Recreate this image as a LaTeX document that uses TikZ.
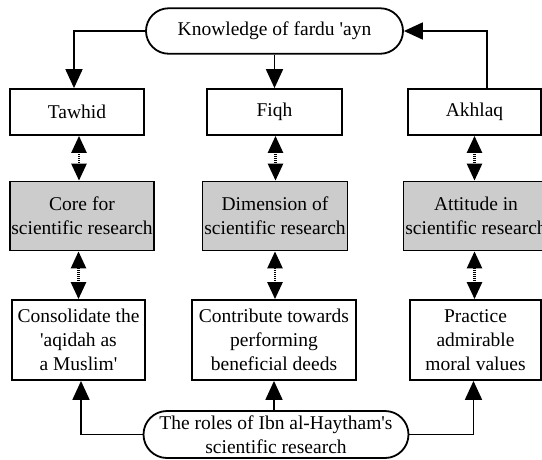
\documentclass[tikz,border=0pt]{standalone}
\usepackage{fontspec}
\setmainfont{Liberation Serif}
\usetikzlibrary{arrows.meta,shapes.misc}
\definecolor{boxgray}{RGB}{204,204,204}
\newcommand{\sq}{\textquotesingle}
\begin{document}
\begin{tikzpicture}[x=1pt,y=-1pt,
  every node/.style={font=\fontsize{19.5}{24}\selectfont, align=center, inner sep=0pt},
  box/.style={draw, line width=1.8pt, rectangle},
  graybox/.style={box, fill=boxgray},
  term/.style={draw, line width=1.8pt, rounded rectangle},
  arr/.style={line width=1.8pt, -{Triangle[width=17pt,length=19pt]}},
  dbl/.style={line width=2.6pt, dash pattern=on 1pt off 1pt,
    {Triangle[width=15pt,length=17pt]}-{Triangle[width=15pt,length=17pt]}}]
\useasboundingbox (0,0) rectangle (542,459);
\clip (0,0) rectangle (542,459);
% top terminator
\node[term, minimum width=257pt, minimum height=45.5pt] (top) at (274.5,31) {Knowledge of fardu \sq ayn};
% row 1
\node[box, minimum width=134pt, minimum height=46pt] (taw) at (77,112) {Tawhid};
\node[box, minimum width=135pt, minimum height=46pt] (fiqh) at (274.5,112) {Fiqh};
\node[box, minimum width=133pt, minimum height=46pt] (akh) at (474.5,112) {Akhlaq};
% row 2
\node[graybox, minimum width=144pt, minimum height=69pt] (core) at (82,216) {Core for\\scientific research};
\node[graybox, minimum width=145pt, minimum height=69pt] (dim) at (275,216) {Dimension of\\scientific research};
\node[graybox, minimum width=145pt, minimum height=69pt] (att) at (476,216) {Attitude in\\scientific research};
% row 3
\node[box, minimum width=133pt, minimum height=80pt] (cons) at (78.5,340) {Consolidate the\\\sq aqidah as\\a Muslim\sq};
\node[box, minimum width=164pt, minimum height=80pt] (contr) at (274,340) {Contribute towards\\performing\\beneficial deeds};
\node[box, minimum width=131pt, minimum height=80pt] (prac) at (475.5,340) {Practice\\admirable\\moral values};
% bottom terminator
\node[term, minimum width=265pt, minimum height=47pt] (bot) at (276,434.5) {The roles of Ibn al-Haytham\sq s\\scientific research};
% top connectors
\draw[arr] (top.west) -| ([xshift=-3pt]taw.north);
\draw[arr] (top.south) -- (fiqh.north);
\draw[arr] ([xshift=12.5pt]akh.north) |- (top.east);
% double arrows
\draw[dbl] ([xshift=2pt]taw.south) -- ([xshift=2pt]taw.south |- core.north);
\draw[dbl] ([xshift=1pt]fiqh.south) -- ([xshift=1pt]fiqh.south |- dim.north);
\draw[dbl] (akh.south) -- (akh.south |- att.north);
\draw[dbl] (cons.north |- core.south) -- (cons.north);
\draw[dbl] (dim.south) -- (dim.south |- contr.north);
\draw[dbl] ([xshift=-1.5pt]att.south) -- ([xshift=-1.5pt]att.south |- prac.north);
% bottom connectors
\draw[arr] (contr.south |- bot.north) -- (contr.south);
\draw[arr] (bot.west) -| ([xshift=2.5pt]cons.south);
\draw[arr] (bot.east) -| ([xshift=-2pt]prac.south);
\end{tikzpicture}
\end{document}
